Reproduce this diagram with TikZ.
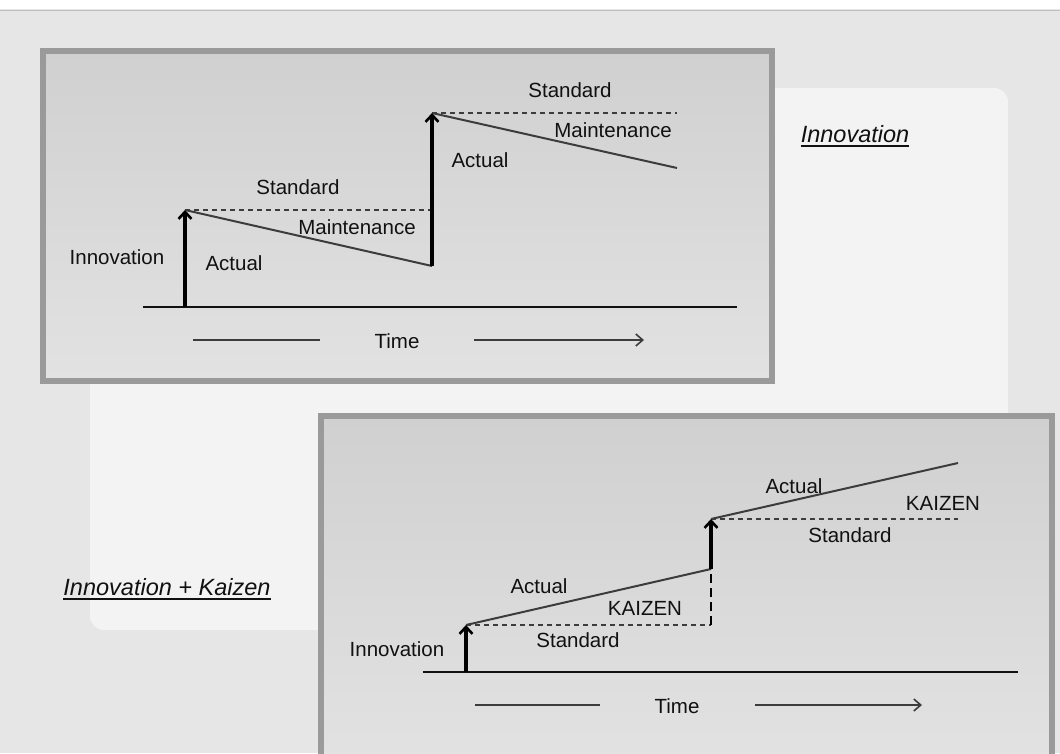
\documentclass[tikz,border=0pt]{standalone}
\usepackage{fontspec}
\setmainfont{Liberation Sans}
\usetikzlibrary{arrows.meta}
\definecolor{bgc}{HTML}{E6E6E6}
\definecolor{sheet}{HTML}{F3F3F3}
\definecolor{panelbd}{HTML}{9A9A9A}
\definecolor{paneltop}{HTML}{D0D0D0}
\definecolor{panelbot}{HTML}{E2E2E2}
\definecolor{ink}{HTML}{111111}
\definecolor{lineg}{HTML}{3C3C3C}
\begin{document}
\begin{tikzpicture}[x=1pt,y=-1pt,
  lbl/.style={font=\fontsize{20.5}{24}\selectfont, text=ink, inner sep=0pt},
  ttl/.style={font=\fontsize{23.5}{28}\selectfont\itshape, text=ink, inner sep=0pt},
  uline/.style={draw=ink, line width=2pt},
  panel/.style={draw=panelbd, line width=6pt, top color=paneltop, bottom color=panelbot},
  axis/.style={draw=ink, line width=2.2pt},
  jump/.style={draw=black, line width=3.2pt, -{Straight Barb[length=7pt,width=13pt,line width=2.6pt]}},
  trend/.style={draw=lineg, line width=2pt},
  stdline/.style={draw=lineg, line width=1.6pt, dash pattern=on 5pt off 4pt},
  kdash/.style={draw=black, line width=2.8pt, dash pattern=on 9pt off 5pt},
  timeline/.style={draw=lineg, line width=1.8pt},
  timearrow/.style={draw=lineg, line width=1.8pt, -{Straight Barb[length=7pt,width=12pt,line width=1.6pt]}}
]
\useasboundingbox (0,0) rectangle (1060,753);
% background
\fill[bgc] (0,0) rectangle (1060,753);
\fill[white] (0,0) rectangle (1060,9);
\draw[draw=lightgray, line width=1pt] (0,10) -- (1060,10);
\fill[sheet, rounded corners=14pt] (90,88) rectangle (1008,630);

% ---------------- top panel ----------------
\path[panel] (43,51) rectangle (772,381);
\coordinate (a0) at (185,307);
\coordinate (a1) at (185,210);
\coordinate (b0) at (432,266);
\coordinate (b1) at (432,113);
\coordinate (s1) at (432,210);
\coordinate (s2) at (677,113);
\coordinate (d2) at (677,168);
\coordinate (ax0) at (143,307);
\coordinate (ax1) at (737,307);
\path[axis] (ax0) -- (ax1);
\path[stdline] (a1) -- (s1);
\path[trend] (a1) -- (b0);
\path[stdline] (b1) -- (s2);
\path[trend] (b1) -- (d2);
\path[jump] (a0) -- (a1);
\path[jump] (b0) -- (b1);
\node[lbl] (tinn) at (117,257) {Innovation};
\node[lbl] (tact1) at (234,263) {Actual};
\node[lbl] (tstd1) at (298,187) {Standard};
\node[lbl] (tmnt1) at (357,227) {Maintenance};
\node[lbl] (tact2) at (480,160) {Actual};
\node[lbl] (tstd2) at (570,90) {Standard};
\node[lbl] (tmnt2) at (613,130) {Maintenance};
\node[lbl] (ttime) at (397,341) {Time};
\coordinate (tl0) at (193,340);
\coordinate (tl1) at (320,340);
\coordinate (tr0) at (474,340);
\coordinate (tr1) at (644,340);
\path[timeline] (tl0) -- (tl1);
\path[timearrow] (tr0) -- (tr1);
\node[ttl] (tit1) at (855,134) {Innovation};
\path[uline] ([yshift=-3pt]tit1.south west) -- ([yshift=-3pt]tit1.south east);

% ---------------- bottom panel ----------------
\path[panel] (321,416) rectangle (1052,760);
\coordinate (c0) at (466,672);
\coordinate (c1) at (466,625);
\coordinate (k1) at (711,625);
\coordinate (e0) at (711,569);
\coordinate (e1) at (711,519);
\coordinate (k2) at (958,519);
\coordinate (f2) at (958,463);
\coordinate (bx0) at (423,672);
\coordinate (bx1) at (1018,672);
\path[axis] (bx0) -- (bx1);
\path[stdline] (c1) -- (k1);
\path[trend] (c1) -- (e0);
\path[kdash] (k1) -- (e0);
\path[stdline] (e1) -- (k2);
\path[trend] (e1) -- (f2);
\path[jump] (c0) -- (c1);
\path[jump] (e0) -- (e1);
\node[lbl] (binn) at (397,649) {Innovation};
\node[lbl] (bact1) at (539,586) {Actual};
\node[lbl] (bkz1) at (645,608) {KAIZEN};
\node[lbl] (bstd1) at (578,640) {Standard};
\node[lbl] (bact2) at (794,486) {Actual};
\node[lbl] (bkz2) at (943,503) {KAIZEN};
\node[lbl] (bstd2) at (850,535) {Standard};
\node[lbl] (btime) at (677,706) {Time};
\coordinate (bl0) at (475,705);
\coordinate (bl1) at (600,705);
\coordinate (br0) at (755,705);
\coordinate (br1) at (922,705);
\path[timeline] (bl0) -- (bl1);
\path[timearrow] (br0) -- (br1);
\node[ttl] (tit2) at (167,587) {Innovation + Kaizen};
\path[uline] ([yshift=-3pt]tit2.south west) -- ([yshift=-3pt]tit2.south east);
\end{tikzpicture}
\end{document}
